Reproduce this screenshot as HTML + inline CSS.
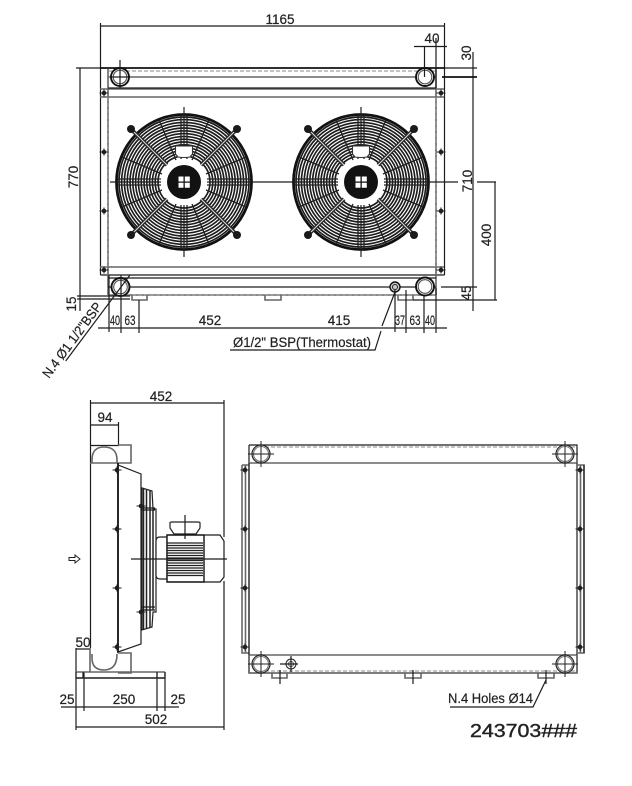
<!DOCTYPE html>
<html><head><meta charset="utf-8"><style>
html,body{margin:0;padding:0;background:#fff}
svg{display:block}
text{font-family:"Liberation Sans",sans-serif;font-size:13.500px;fill:#222;stroke:#222;stroke-width:.2}
.l{stroke:#1c1c1c;stroke-width:1.200;fill:none}
.t{stroke:#111;stroke-width:1.800;fill:none}
.g{stroke:#666;stroke-width:1.600;fill:none}
.d{stroke:#888;stroke-width:1.100;stroke-dasharray:4 2;fill:none}
</style></head><body>
<svg width="632" height="786" viewBox="0 0 632 786" xmlns="http://www.w3.org/2000/svg">
<defs>
<g id="fan">
<g fill="none" stroke="#1c1c1c" stroke-width="1.650">
<circle r="26"/><circle r="28.800"/><circle r="31.600"/><circle r="34.400"/><circle r="37.200"/><circle r="40"/><circle r="42.800"/><circle r="45.600"/><circle r="48.400"/><circle r="51.200"/><circle r="54"/><circle r="56.800"/><circle r="59.600"/><circle r="62.400"/><circle r="65"/>
</g>
<circle r="67.500" fill="none" stroke="#111" stroke-width="2.800"/>
<g stroke="#222" stroke-width="1.300">
<path d="M-3-67V-23M3-67V-23M-3 67V23M3 67V23M-67-3H-23M-67 3H-23M67-3H23M67 3H23"/>
<path d="M-62-25-22-8M62-25 22-8M-62 25-22 8M62 25 22 8M-25-62-8-22M25-62 8-22M-25 62-8 22M25 62 8 22"/>
</g>
<g stroke="#2a2a2a" stroke-width="3.800"><path d="M-53-53-17-17M53-53 17-17M-53 53-17 17M53 53 17 17"/></g>
<g stroke="#ddd" stroke-width="1"><path d="M-50-50-17-17M50-50 17-17M-50 50-17 17M50 50 17 17"/></g>
<g fill="#1a1a1a"><circle cx="-53" cy="-53" r="4"/><circle cx="53" cy="-53" r="4"/><circle cx="-53" cy="53" r="4"/><circle cx="53" cy="53" r="4"/></g>
<circle r="23" fill="#fff"/>
<path d="M-8.500-36H8.500V-28L6-25Q0-24-6-25L-8.500-28Z" fill="#fff" stroke="#333" stroke-width="1.100"/>
<circle r="17" fill="#121212"/>
<path d="M-5.500-5.500h5v5h-5zM.8-5.500h5v5h-5zM-5.500.8h5v5h-5zM.8.8h5v5h-5z" fill="#fff"/>
<path d="M0-75V-36M0 23V75" stroke="#222" stroke-width="1.200"/>
</g>
<g id="b"><circle r="2.300" fill="#1a1a1a"/><path d="M-4.500 0H4.500M0-3.500V3.500" stroke="#222" stroke-width="1.100"/></g>
<g id="hole"><circle r="9" fill="#fff" stroke="#222" stroke-width="1.200"/><circle r="7.500" fill="none" stroke="#777" stroke-width="1.100"/><path d="M-13 0H13M0-13V13" stroke="#222" stroke-width="1"/></g>
</defs>

<!-- top view frame -->
<path class="l" d="M100.500 23V275M100.500 275H444.500M444.500 23V275M100 26H445"/>
<path class="t" d="M100 68H445"/>
<path class="g" d="M108 69V295M436 69V295M108 77H436M100 89H444M100 97H444M100 267H444M108 295H436"/>
<path class="l" d="M108 88H436M108 278H436M108 287H436"/>
<path class="d" d="M108 71H436M108 295H436M108 97V267M436 97V267"/>
<use href="#b" x="104" y="93"/><use href="#b" x="104" y="152"/><use href="#b" x="104" y="211"/><use href="#b" x="104" y="270"/>
<use href="#b" x="441" y="93"/><use href="#b" x="441" y="152"/><use href="#b" x="441" y="211"/><use href="#b" x="441" y="270"/>

<use href="#fan" x="184" y="182"/>
<use href="#fan" x="361" y="182"/>
<path class="l" d="M110 182H161M207 182H338M384 182H458M477 182H496"/>

<!-- holes -->
<g fill="#fff" stroke="#111" stroke-width="1.900">
<circle cx="120" cy="77" r="9"/><circle cx="425" cy="77" r="9"/><circle cx="120.500" cy="287" r="9"/><circle cx="425" cy="286.500" r="9"/>
</g>
<g fill="none" stroke="#555" stroke-width="1.100"><circle cx="120" cy="77" r="6.800"/><circle cx="425" cy="77" r="6.800"/><circle cx="120.500" cy="287" r="6.800"/><circle cx="425" cy="286.500" r="6.800"/></g>
<path class="l" d="M120 60V88M112 77H128"/>
<circle cx="395" cy="287" r="5" fill="#ccc" stroke="#111" stroke-width="1.400"/><circle cx="395" cy="287" r="2.500" fill="none" stroke="#222"/>
<!-- feet -->
<path class="g" d="M132 295V300H147V295M265 295V300H281V295M398 295V300H413V295"/>
<!-- dims top -->
<path class="l" d="M414 46.500H447M424.500 46V77M436 38V88"/>
<path class="l" d="M473 52V311M445 68H477M76 68H100M80 68V311M413 300H497M495 182V300M441 287H477"/>
<path class="t" d="M442 77H477"/>
<path class="l" d="M77 296H130M77 299H130M98 328H447M109 275V332M121 275V333M139 300V333M395 290V332M406 290V333M424 296V333M436 288V333"/>
<path class="l" d="M65.700 361 130 275M230 350H375L381 331M382 326 395 292"/>
<g text-anchor="middle">
<text x="280" y="24">1165</text>
<text x="432" y="43">40</text>
<text x="115" y="325" textLength="10" lengthAdjust="spacingAndGlyphs">40</text>
<text x="130" y="325" textLength="11" lengthAdjust="spacingAndGlyphs">63</text>
<text x="210" y="325">452</text>
<text x="339" y="325">415</text>
<text x="400" y="325" textLength="10" lengthAdjust="spacingAndGlyphs">37</text>
<text x="415" y="325" textLength="11" lengthAdjust="spacingAndGlyphs">63</text>
<text x="430" y="325" textLength="10" lengthAdjust="spacingAndGlyphs">40</text>
<text transform="translate(471 53) rotate(-90)">30</text>
<text transform="translate(78 177) rotate(-90)">770</text>
<text transform="translate(472 181) rotate(-90)">710</text>
<text transform="translate(491 235) rotate(-90)">400</text>
<text transform="translate(471 293) rotate(-90)">45</text>
<text transform="translate(76 304) rotate(-90)">15</text>
</g>
<text x="233" y="347" textLength="138" lengthAdjust="spacingAndGlyphs">Ø1/2" BSP(Thermostat)</text>
<text transform="translate(49 379) rotate(-53.500)" textLength="90" lengthAdjust="spacingAndGlyphs">N.4 Ø1 1/2"BSP</text>

<!-- side view -->
<path class="l" d="M90 403H224M90.500 400V648M224 400V537M224 581V730M90 425H119M118.500 422V445M90 445.500H119"/>
<path class="g" d="M92 463V460Q92 447 104 447Q117 447 117 460V463M90 463H119M118 445H131V463H118"/>
<path class="t" d="M118 463V653"/>
<path class="l" d="M118 465 141 474V500M118 652 141 644V620M141 620V500"/>
<path fill="#fff" stroke="#222" stroke-width="1.200" d="M142 488 152 491 153 509H156V612H153L152 627 142 630Z"/>
<g stroke="#222" stroke-width="1.500"><path d="M143.500 489V629M146.500 490V629M150 491V628M153 510V610"/></g>
<path class="l" d="M141 510H155M141 508H155M141 607H155M141 610H155"/>
<path fill="#fff" stroke="#222" stroke-width="1.200" d="M156 541Q156 537 160 537H167V579H160Q156 579 156 575Z"/>
<path fill="#fff" stroke="#111" stroke-width="1.400" d="M167 535H204V582H167Z"/>
<g stroke="#222" stroke-width="1.300"><path d="M167 543H203M167 545.500H203M167 548H203M167 550.500H203M167 553H203M167 555.500H203M167 558H203M167 560.500H203M167 563H203M167 565.500H203M167 568H203M167 570.500H203M167 573H203M167 575.500H203"/></g>
<path class="l" d="M204 535H220L224 541V577L220 582H204"/>
<path fill="#fff" stroke="#222" stroke-width="1.200" d="M170 523Q170 522 172 522H198Q200 522 200 523V528L196 534H174L170 528Z"/>
<path class="l" d="M131 559H227M185 515V539"/>
<use href="#b" x="117" y="470"/><use href="#b" x="117" y="529"/><use href="#b" x="117" y="588"/><use href="#b" x="117" y="647"/><use href="#b" x="141" y="506"/><use href="#b" x="141" y="612"/>
<path fill="#fff" stroke="#222" d="M69 557.500H75V555L80 559 75 563V560.500H69Z"/>
<path class="g" d="M92 654V658Q92 670 104 670Q117 670 117 654M118 653H131V673H118"/>
<path class="l" d="M76 649H90M76 648V730M84 672V711M157 672V711M165 672V711M61 707H179M76 727H224"/>
<path class="g" d="M76 672H165M76 678H165M90 648V672"/>
<path class="l" d="M76 672V678H165V672M83 672V678M157 672V678"/>
<g text-anchor="middle">
<text x="161" y="401">452</text>
<text x="105" y="422">94</text>
<text x="83" y="647">50</text>
<text x="67" y="704">25</text>
<text x="124" y="704">250</text>
<text x="178" y="704">25</text>
<text x="156" y="724">502</text>
</g>

<!-- plan view -->
<path class="l" d="M249 445H577V463M249 445V673H577V655"/>
<path class="g" d="M249 463H577M249 655H577M249 673H577"/>
<path class="d" d="M265 447H575M265 671H575"/>
<path class="g" d="M242 465H249M242 465V653H249M245.500 465V653"/>
<path class="l" d="M249 463V655M577 463V655"/>
<path class="g" d="M577 465H584V653H577M580.500 465V653"/>
<path class="l" d="M584 465V653"/>
<use href="#hole" x="261" y="454"/><use href="#hole" x="565" y="454"/><use href="#hole" x="261" y="664"/><use href="#hole" x="565" y="664"/>
<circle cx="291" cy="664" r="5" fill="#fff" stroke="#222"/><circle cx="291" cy="664" r="2.500" fill="none" stroke="#555"/><path class="l" d="M280 664H298M291 656V672"/>
<path class="g" d="M272 673V678H287V673M405 673V678H421V673M538 673V678H554V673"/>
<path class="l" d="M280 670V684M413 670V684M546 670V684"/>
<use href="#b" x="245" y="470"/><use href="#b" x="245" y="529"/><use href="#b" x="245" y="588"/><use href="#b" x="245" y="647"/>
<use href="#b" x="580" y="470"/><use href="#b" x="580" y="529"/><use href="#b" x="580" y="588"/><use href="#b" x="580" y="647"/>
<path class="l" d="M450 707H533L546 680"/>
<text x="448" y="703" textLength="85" lengthAdjust="spacingAndGlyphs">N.4 Holes Ø14</text>
<text x="470" y="737" style="font-size:18px;stroke-width:.4" textLength="107" lengthAdjust="spacingAndGlyphs">243703###</text>
</svg>
</body></html>
